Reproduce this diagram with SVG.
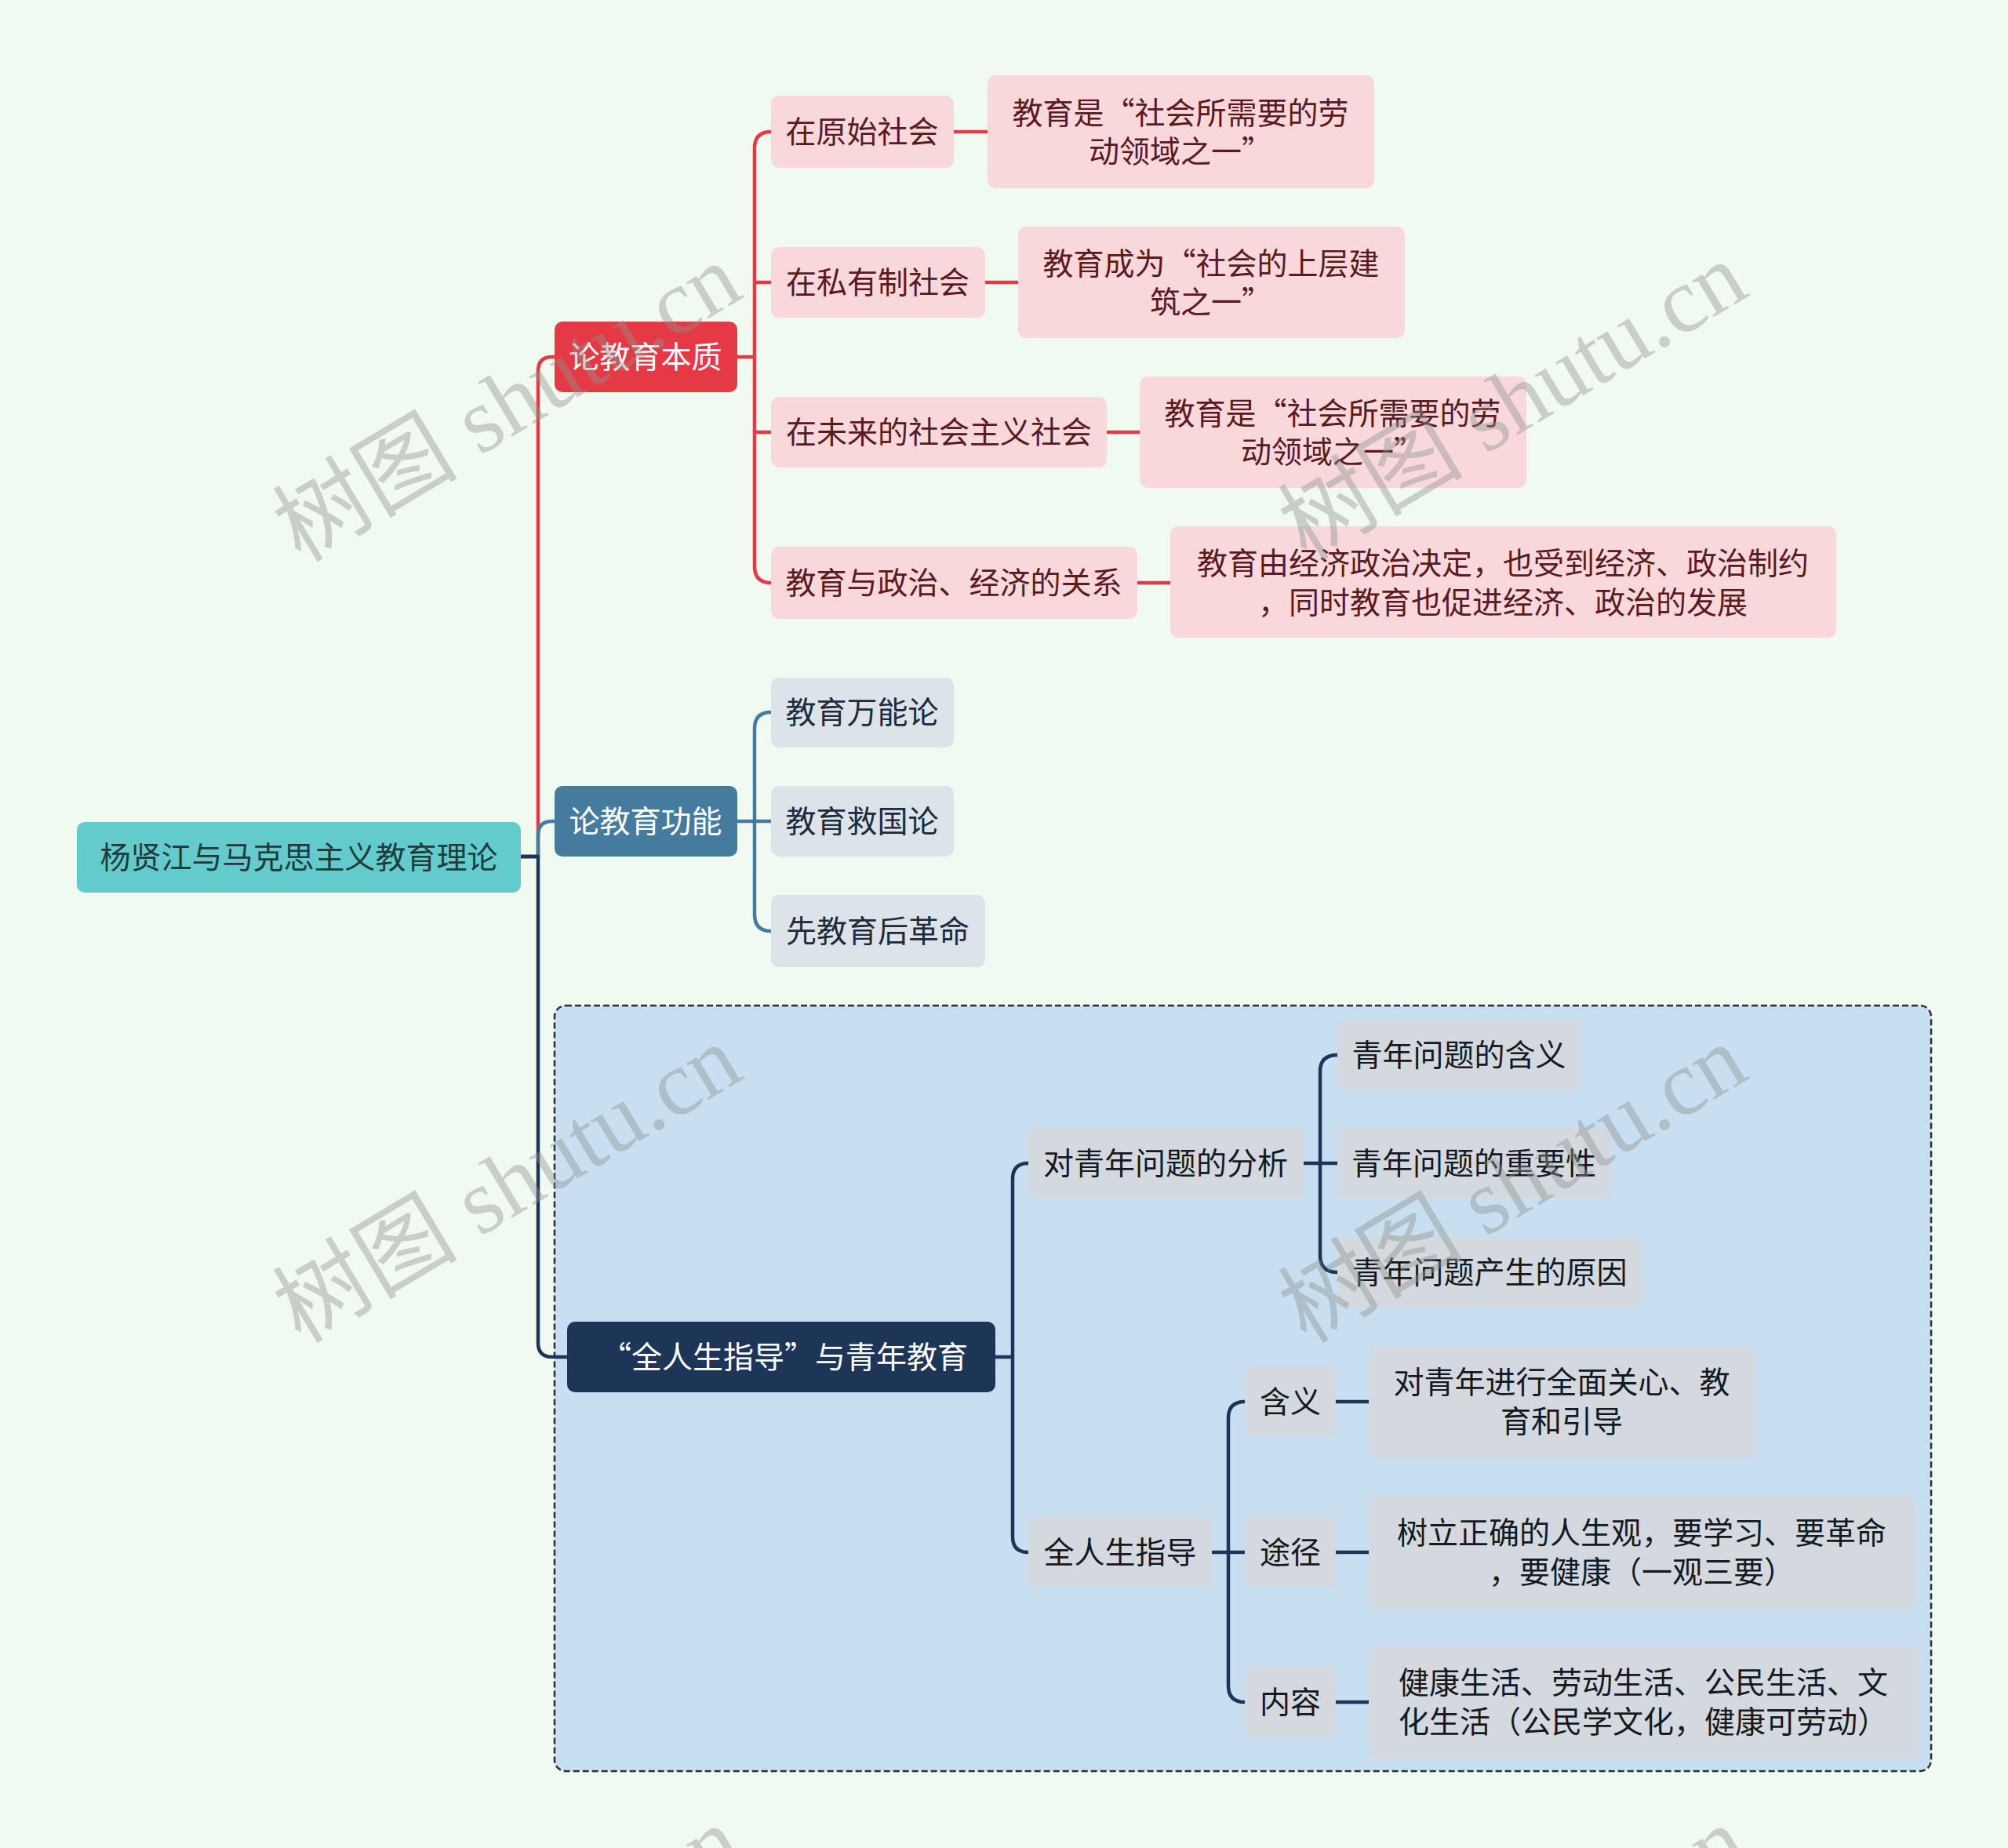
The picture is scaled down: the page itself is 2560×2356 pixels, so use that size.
<svg xmlns="http://www.w3.org/2000/svg" width="2560" height="2356" viewBox="0 0 2560 2356">
<style>
text{font-family:"Noto Sans CJK SC","Noto Sans",sans-serif;font-size:39px;text-anchor:middle;dominant-baseline:central}
.root rect{fill:#63CBCB}
.root text{fill:#1f3b3b}
.red rect{fill:#E63946}
.blue rect{fill:#457B9D}
.navy rect{fill:#1D3557}
.red text,.blue text,.navy text{fill:#ffffff}
.pink rect{fill:#F9D8DC}
.pink text{fill:#5a1a20}
.lblue rect{fill:#DCE4EA}
.lblue text{fill:#1d2b3a}
.gray rect{fill:#D4D9DF}
.gray text{fill:#141a22}
.c{fill:none;stroke-width:4.5;stroke-linecap:round;stroke-linejoin:round}
.cr{stroke:#E63946}
.cb{stroke:#457B9D}
.cn{stroke:#1D3557}
.wm text{font-family:"Liberation Serif","Noto Sans CJK SC",serif;font-size:118px;fill:#8c948c;fill-opacity:0.42}
</style>
<rect x="0" y="0" width="2560" height="2356" fill="#F1FAF0"/>
<rect id="boundary" x="707" y="1282" width="1755" height="976" rx="14" fill="#C8DFF2" stroke="#2a2f36" stroke-width="2.5" stroke-dasharray="8 4"/>
<g id="connectors">
<path class="c cr" d="M664,1092 H686 V473 Q686,455 704,455 H707"/>
<path class="c cb" d="M664,1092 H686 V1065 Q686,1047 704,1047 H707"/>
<path class="c cn" d="M664,1092 H686 V1712 Q686,1730 704,1730 H723"/>
<path class="c cr" d="M940,455 H962"/>
<path class="c cr" d="M983,168 Q962,168 962,189 V722 Q962,743 983,743"/>
<path class="c cr" d="M962,360 H983 M962,551 H983"/>
<path class="c cr" d="M1216,168 H1259 M1256,360 H1298 M1411,551 H1453 M1450,743 H1492"/>
<path class="c cb" d="M940,1047 H962"/>
<path class="c cb" d="M983,908 Q962,908 962,929 V1166 Q962,1187 983,1187"/>
<path class="c cb" d="M962,1047 H983"/>
<path class="c cn" d="M1269,1730 H1291"/>
<path class="c cn" d="M1311,1483 Q1291,1483 1291,1503 V1959 Q1291,1979 1311,1979"/>
<path class="c cn" d="M1662,1483 H1705"/>
<path class="c cn" d="M1705,1345 Q1683,1345 1683,1366 V1601 Q1683,1622 1705,1622"/>
<path class="c cn" d="M1545,1979 H1587"/>
<path class="c cn" d="M1587,1787 Q1566,1787 1566,1808 V2149 Q1566,2170 1587,2170"/>
<path class="c cn" d="M1703,1787 H1745 M1703,1979 H1745 M1703,2170 H1745"/>
</g>
<g id="root" class="root"><rect x="98" y="1048" width="566" height="90" rx="10"/><text x="381" y="1090">杨贤江与马克思主义教育理论</text></g>
<g id="n1" class="red"><rect x="707" y="410" width="233" height="90" rx="10"/><text x="823" y="452">论教育本质</text></g>
<g id="n2" class="blue"><rect x="707" y="1002" width="233" height="90" rx="10"/><text x="823" y="1044">论教育功能</text></g>
<g id="n3" class="navy"><rect x="723" y="1685" width="546" height="90" rx="10"/><text x="1000" y="1727">“全人生指导”与青年教育</text></g>
<g id="n1a" class="pink"><rect x="983" y="122" width="233" height="92" rx="10"/><text x="1099" y="165">在原始社会</text></g>
<g id="n1b" class="pink"><rect x="983" y="315" width="273" height="90" rx="10"/><text x="1119" y="357">在私有制社会</text></g>
<g id="n1c" class="pink"><rect x="983" y="506" width="428" height="90" rx="10"/><text x="1197" y="548">在未来的社会主义社会</text></g>
<g id="n1d" class="pink"><rect x="983" y="697" width="467" height="92" rx="10"/><text x="1216" y="740">教育与政治、经济的关系</text></g>
<g id="n1a1" class="pink"><rect x="1259" y="96" width="493" height="144" rx="10"/><text x="1505" y="141">教育是“社会所需要的劳</text><text x="1505" y="190">动领域之一”</text></g>
<g id="n1b1" class="pink"><rect x="1298" y="289" width="493" height="142" rx="10"/><text x="1544" y="333">教育成为“社会的上层建</text><text x="1544" y="382">筑之一”</text></g>
<g id="n1c1" class="pink"><rect x="1453" y="480" width="493" height="142" rx="10"/><text x="1699" y="524">教育是“社会所需要的劳</text><text x="1699" y="573">动领域之一”</text></g>
<g id="n1d1" class="pink"><rect x="1492" y="671" width="849" height="142" rx="10"/><text x="1916" y="715">教育由经济政治决定，也受到经济、政治制约</text><text x="1916" y="765">，同时教育也促进经济、政治的发展</text></g>
<g id="n2a" class="lblue"><rect x="983" y="864" width="233" height="89" rx="10"/><text x="1099" y="905">教育万能论</text></g>
<g id="n2b" class="lblue"><rect x="983" y="1002" width="233" height="90" rx="10"/><text x="1099" y="1044">教育救国论</text></g>
<g id="n2c" class="lblue"><rect x="983" y="1141" width="273" height="92" rx="10"/><text x="1119" y="1184">先教育后革命</text></g>
<g id="n3a" class="gray"><rect x="1311" y="1437" width="351" height="91" rx="10"/><text x="1486" y="1480">对青年问题的分析</text></g>
<g id="n3b" class="gray"><rect x="1311" y="1933" width="234" height="91" rx="10"/><text x="1428" y="1976">全人生指导</text></g>
<g id="n3a1" class="gray"><rect x="1705" y="1300" width="310" height="89" rx="10"/><text x="1860" y="1342">青年问题的含义</text></g>
<g id="n3a2" class="gray"><rect x="1705" y="1438" width="349" height="90" rx="10"/><text x="1879" y="1480">青年问题的重要性</text></g>
<g id="n3a3" class="gray"><rect x="1705" y="1577" width="388" height="90" rx="10"/><text x="1899" y="1619">青年问题产生的原因</text></g>
<g id="n3b1" class="gray"><rect x="1587" y="1742" width="116" height="90" rx="10"/><text x="1645" y="1784">含义</text></g>
<g id="n3b2" class="gray"><rect x="1587" y="1933" width="116" height="91" rx="10"/><text x="1645" y="1976">途径</text></g>
<g id="n3b3" class="gray"><rect x="1587" y="2124" width="116" height="92" rx="10"/><text x="1645" y="2167">内容</text></g>
<g id="n3b1a" class="gray"><rect x="1745" y="1716" width="493" height="142" rx="10"/><text x="1991" y="1759">对青年进行全面关心、教</text><text x="1991" y="1809">育和引导</text></g>
<g id="n3b2a" class="gray"><rect x="1745" y="1907" width="696" height="144" rx="10"/><text x="2093" y="1951">树立正确的人生观，要学习、要革命</text><text x="2093" y="2001">，要健康（一观三要）</text></g>
<g id="n3b3a" class="gray"><rect x="1745" y="2098" width="701" height="144" rx="10"/><text x="2095" y="2142">健康生活、劳动生活、公民生活、文</text><text x="2095" y="2192">化生活（公民学文化，健康可劳动）</text></g>
<g class="wm">
<text x="647" y="514" transform="rotate(-31 647 514)">树图 shutu.cn</text>
<text x="1929" y="512" transform="rotate(-31 1929 512)">树图 shutu.cn</text>
<text x="647" y="1510" transform="rotate(-31 647 1510)">树图 shutu.cn</text>
<text x="1929" y="1510" transform="rotate(-31 1929 1510)">树图 shutu.cn</text>
<text x="647" y="2506" transform="rotate(-31 647 2506)">树图 shutu.cn</text>
<text x="1929" y="2506" transform="rotate(-31 1929 2506)">树图 shutu.cn</text>
</g>
</svg>
